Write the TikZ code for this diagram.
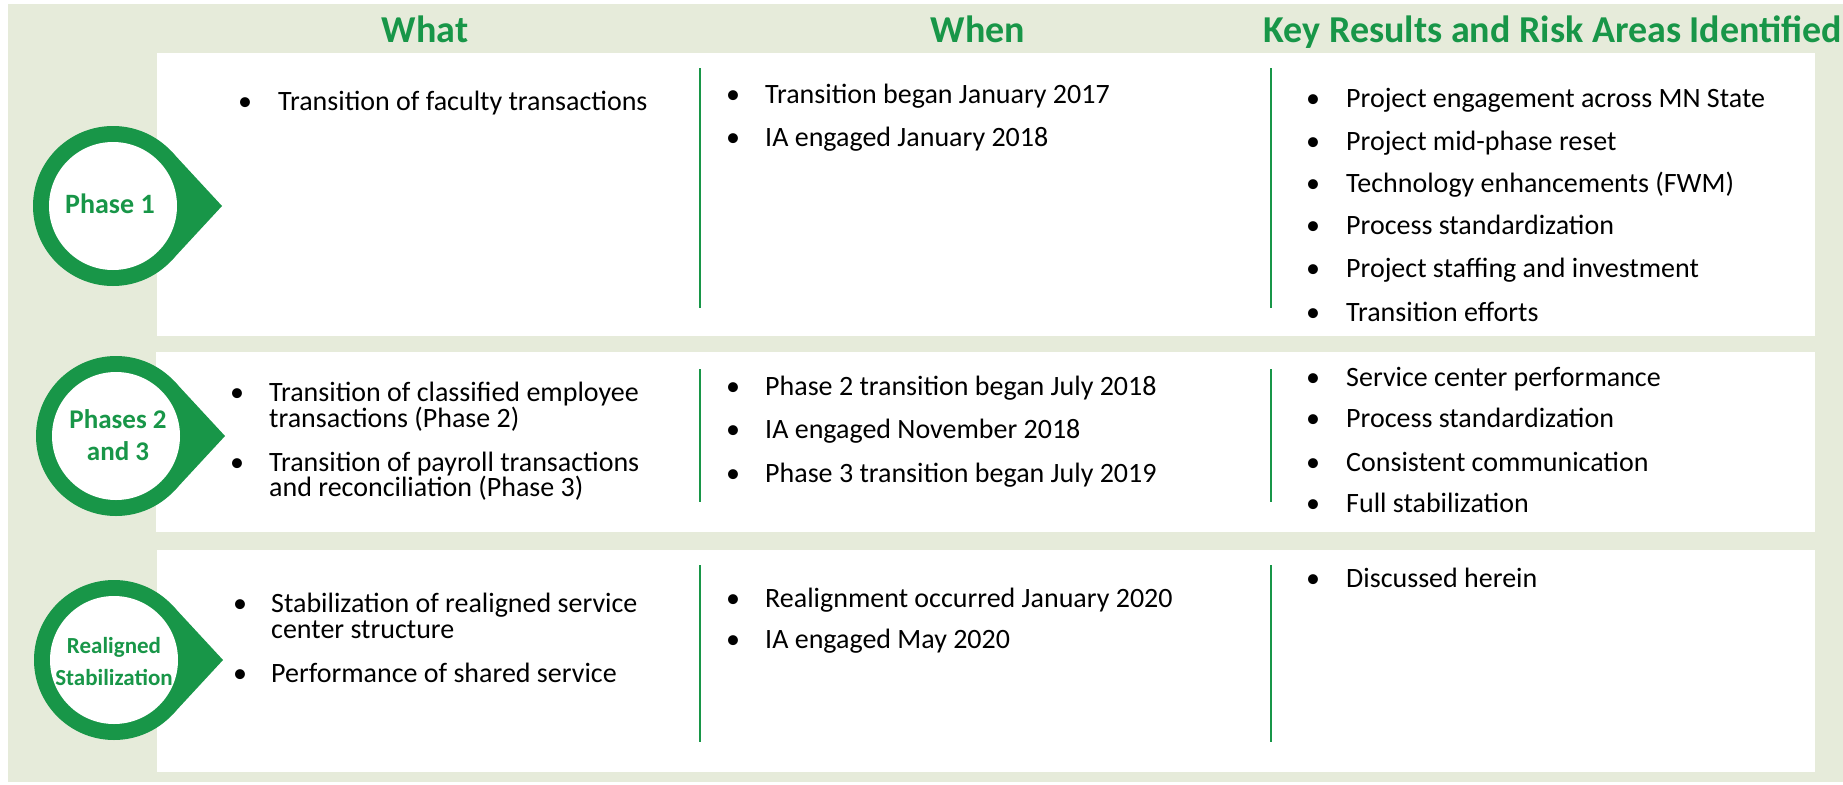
\documentclass[tikz,border=0pt]{standalone}
\usepackage{fontspec}
\setmainfont{Carlito}
\definecolor{bgc}{RGB}{230,235,218}
\definecolor{grn}{RGB}{24,150,72}
\newcommand\mytear[4]{% cx, cy, name, label
  \fill[grn] (#1,#2) circle[radius=80];
  \fill[grn,shift={(#1,#2)}] (109,0) -- (42.8:80) -- (-42.8:80) -- cycle;
  \fill[white] (#1,#2) circle[radius=64];
  \coordinate (#3) at (#1,#2);
}
\begin{document}
\begin{tikzpicture}[x=1pt,y=-1pt,
  hdr/.style={anchor=base,text=grn,font=\fontsize{38}{42}\selectfont\bfseries,inner sep=0pt},
  txt/.style={anchor=base west,font=\fontsize{28}{30}\selectfont,inner sep=0pt},
  bul/.style={anchor=base,font=\fontsize{28}{30}\selectfont,inner sep=0pt},
  ctxt/.style={anchor=base,text=grn,inner sep=0pt},
  divider/.style={grn,line width=1.8pt}]
\useasboundingbox (0,0) rectangle (1843,784);
\fill[bgc] (8,4) rectangle (1843,782);
% white boxes
\fill[white] (157,53) rectangle (1815,336);
\fill[white] (156,352) rectangle (1815,532);
\fill[white] (157,550) rectangle (1815,772);
% headers
\node[hdr] (hwhat) at (425,42) {What};
\node[hdr] (hwhen) at (978,42) {When};
\node[hdr] (hkey) at (1553,42) {Key Results and Risk Areas Identified};
% dividers
\draw[divider] (700,68) -- (700,308);
\draw[divider] (1271,68) -- (1271,308);
\draw[divider] (700,369) -- (700,502);
\draw[divider] (1271,369) -- (1271,502);
\draw[divider] (700,565) -- (700,742);
\draw[divider] (1271,565) -- (1271,742);
% circles
\mytear{113}{206}{c1}{}
\mytear{116}{436}{c2}{}
\mytear{114}{660}{c3}{}
\node[ctxt,font=\fontsize{28}{30}\selectfont\bfseries] (t1) at (110,213) {Phase 1};
\node[ctxt,font=\fontsize{27}{30}\selectfont\bfseries] (t2a) at (118,428) {Phases 2};
\node[ctxt,font=\fontsize{27}{30}\selectfont\bfseries] (t2b) at (118,460) {and 3};
\node[ctxt,font=\fontsize{23}{26}\selectfont\bfseries] (t3a) at (114,653) {Realigned};
\node[ctxt,font=\fontsize{23}{26}\selectfont\bfseries] (t3b) at (114,685) {Stabilization};
% Box 1
\node[bul] (b1w1) at (245,110) {\textbullet};
\node[txt] (w1a) at (278,110) {Transition of faculty transactions};
\node[bul] (b1n1) at (733,103) {\textbullet};
\node[txt] (n1a) at (765,103) {Transition began January 2017};
\node[bul] (b1n2) at (733,146) {\textbullet};
\node[txt] (n1b) at (765,146) {IA engaged January 2018};
\foreach \y/\t [count=\i] in {107/Project engagement across MN State,150/Project mid-phase reset,192/Technology enhancements (FWM),234/Process standardization,277/Project staffing and investment,321/Transition efforts}{
  \node[bul] (b1k\i) at (1313,\y) {\textbullet};
  \node[txt] (k1\i) at (1346,\y) {\t};
}
% Box 2
\node[bul] (b2w1) at (237,401) {\textbullet};
\node[txt] (w2a) at (269,401) {Transition of classified employee};
\node[txt] (w2b) at (269,427) {transactions (Phase 2)};
\node[bul] (b2w2) at (237,471) {\textbullet};
\node[txt] (w2c) at (269,471) {Transition of payroll transactions};
\node[txt] (w2d) at (269,496) {and reconciliation (Phase 3)};
\node[bul] (b2n1) at (733,395) {\textbullet};
\node[txt] (n2a) at (765,395) {Phase 2 transition began July 2018};
\node[bul] (b2n2) at (733,438) {\textbullet};
\node[txt] (n2b) at (765,438) {IA engaged November 2018};
\node[bul] (b2n3) at (733,482) {\textbullet};
\node[txt] (n2c) at (765,482) {Phase 3 transition began July 2019};
\foreach \y/\t [count=\i] in {386/Service center performance,427/Process standardization,471/Consistent communication,512/Full stabilization}{
  \node[bul] (b2k\i) at (1313,\y) {\textbullet};
  \node[txt] (k2\i) at (1346,\y) {\t};
}
% Box 3
\node[bul] (b3w1) at (240,612) {\textbullet};
\node[txt] (w3a) at (271,612) {Stabilization of realigned service};
\node[txt] (w3b) at (271,638) {center structure};
\node[bul] (b3w2) at (240,682) {\textbullet};
\node[txt] (w3c) at (271,682) {Performance of shared service};
\node[bul] (b3n1) at (733,607) {\textbullet};
\node[txt] (n3a) at (765,607) {Realignment occurred January 2020};
\node[bul] (b3n2) at (733,648) {\textbullet};
\node[txt] (n3b) at (765,648) {IA engaged May 2020};
\node[bul] (b3k1) at (1313,587) {\textbullet};
\node[txt] (k31) at (1346,587) {Discussed herein};
\end{tikzpicture}
\end{document}
